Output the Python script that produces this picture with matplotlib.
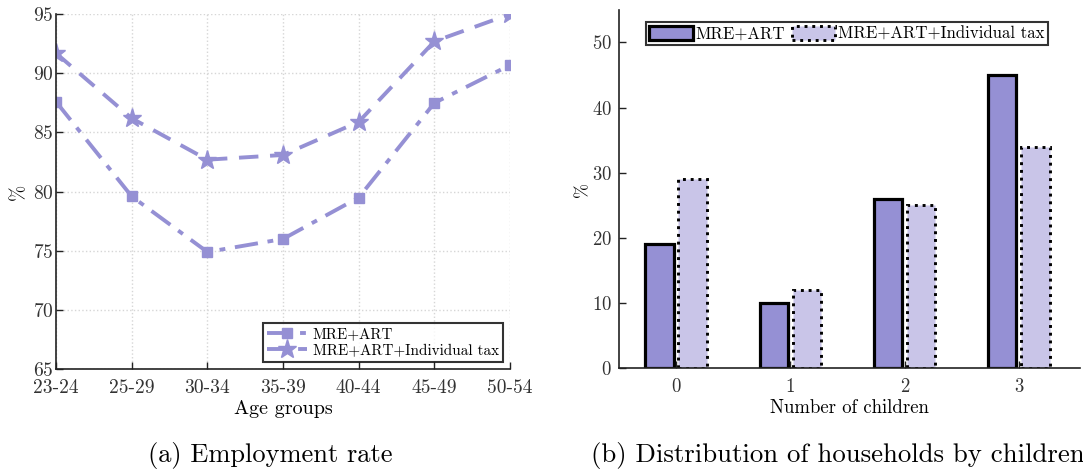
import numpy as np
import matplotlib
matplotlib.use("Agg")
import matplotlib.pyplot as plt

plt.rcParams['font.family'] = ['cmr10', 'DejaVu Serif']
plt.rcParams['mathtext.fontset'] = 'cm'
plt.rcParams['axes.formatter.use_mathtext'] = True

age_groups = ["23-24", "25-29", "30-34", "35-39", "40-44", "45-49", "50-54"]
emp_base = [87.6, 79.6, 74.9, 76.0, 79.5, 87.5, 90.7]
emp_tax = [91.7, 86.2, 82.7, 83.1, 85.9, 92.7, 95.0]

children = ["0", "1", "2", "3"]
hh_base = [19, 10, 26, 45]
hh_tax = [29, 12, 25, 34]

purple = "#9590d4"
light_purple = "#c9c5e8"
spine_col = "#222222"

fig = plt.figure(figsize=(10.83, 4.72), dpi=100)

# (a) employment rate by age group
ax1 = fig.add_axes([0.0517, 0.218, 0.4193, 0.752])
x = np.arange(len(age_groups))
ax1.plot(x, emp_base, color=purple, lw=2.8, ls=(0, (6, 2.5, 1.5, 2.5)),
         marker='s', ms=7.5, label="MRE+ART")
ax1.plot(x, emp_tax, color=purple, lw=2.8, ls=(0, (5, 3)),
         marker='*', ms=14, label="MRE+ART+Individual tax")
ax1.set_xlim(0, 6)
ax1.set_ylim(65, 95)
ax1.set_xticks(x)
ax1.set_xticklabels(age_groups)
ax1.set_yticks(np.arange(65, 96, 5))
ax1.grid(True, ls=':', color='#d6d6d6', lw=1)
ax1.set_xlabel("Age groups", fontsize=14.5, labelpad=2)
ax1.set_ylabel("%", fontsize=14, labelpad=3)
leg1 = ax1.legend(loc='lower right', fontsize=10.9, frameon=True, fancybox=False,
                  borderpad=0.3, handlelength=2.6, handletextpad=0.4,
                  labelspacing=0.2, borderaxespad=0.45)
leg1.get_frame().set_edgecolor('black')
leg1.get_frame().set_linewidth(1.5)

# (b) distribution of households by number of children
ax2 = fig.add_axes([0.5716, 0.220, 0.426, 0.759])
xc = np.arange(len(children))
w = 0.25
ax2.bar(xc - 0.145, hh_base, width=w, color=purple, edgecolor='black',
        lw=2.3, label="MRE+ART")
ax2.bar(xc + 0.145, hh_tax, width=w, color=light_purple, edgecolor='black',
        lw=2.1, ls=':', label="MRE+ART+Individual tax")
ax2.set_xlim(-0.5, 3.54)
ax2.set_ylim(0, 55)
ax2.set_xticks(xc)
ax2.set_xticklabels(children)
ax2.set_yticks(np.arange(0, 51, 10))
ax2.set_xlabel("Number of children", fontsize=13.5, labelpad=2)
ax2.set_ylabel("%", fontsize=13, labelpad=1)
leg2 = ax2.legend(loc='upper left', bbox_to_anchor=(0.058, 0.965), ncol=2,
                  fontsize=12.1, frameon=True, fancybox=False, borderpad=0.2,
                  handlelength=2.6, handleheight=0.9, handletextpad=0.15,
                  columnspacing=0.4, borderaxespad=0)
leg2.get_frame().set_edgecolor('black')
leg2.get_frame().set_linewidth(1.5)

for ax, lsize in ((ax1, 14), (ax2, 13.5)):
    for side in ('top', 'right'):
        ax.spines[side].set_visible(False)
    for side in ('left', 'bottom'):
        ax.spines[side].set_color(spine_col)
        ax.spines[side].set_linewidth(1.2)
    ax.tick_params(direction='in', length=5, width=1, labelsize=lsize,
                   colors=spine_col, labelcolor='#333333')
ax1.tick_params(axis='y', pad=2)
ax1.tick_params(axis='x', pad=7)
ax2.tick_params(axis='y', pad=5)
ax2.tick_params(axis='x', pad=7)

fig.text(0.25, 0.036, "(a) Employment rate", ha='center', va='center',
         fontsize=19)
fig.text(0.774, 0.036, "(b) Distribution of households by children",
         ha='center', va='center', fontsize=19.3)

fig.savefig("out.png", dpi=100)
